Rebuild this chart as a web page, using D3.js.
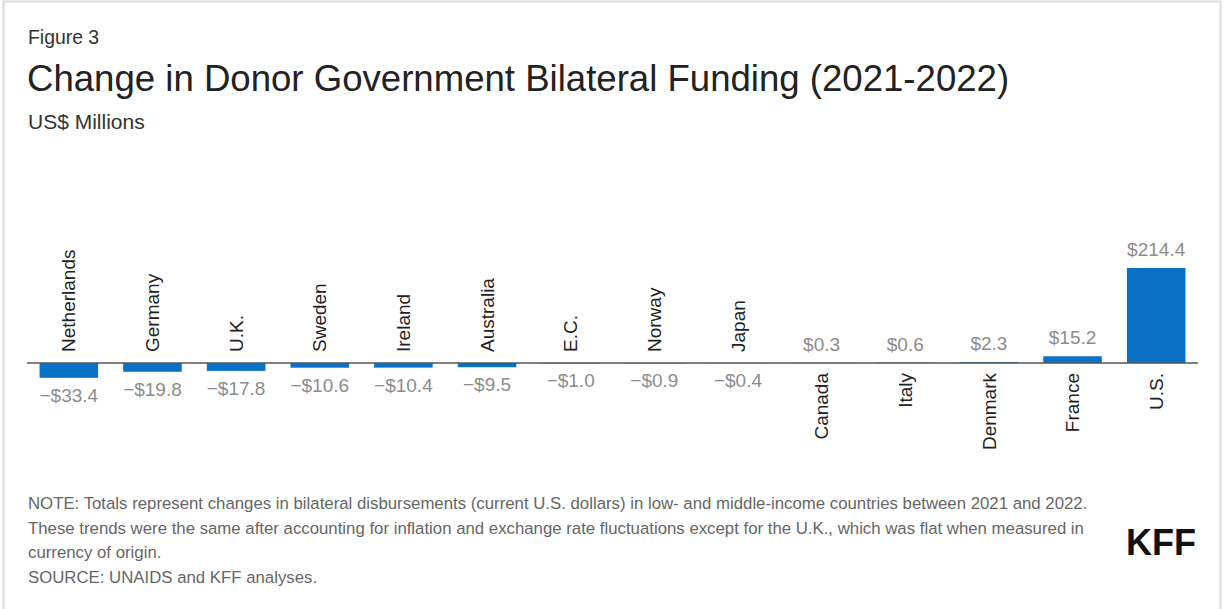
<!DOCTYPE html>
<html>
<head>
<meta charset="utf-8">
<script src="https://cdn.jsdelivr.net/npm/d3@7"></script>
<style>
  html, body { margin: 0; padding: 0; background: #fff; }
  svg { display: block; font-family: "Liberation Sans", Arial, Helvetica, sans-serif; }
</style>
</head>
<body>
<svg id="chart" width="1225" height="609"></svg>
<script>
// Donor governments, ordered from largest decrease to largest increase
const donors = ["Netherlands", "Germany", "U.K.", "Sweden", "Ireland", "Australia", "E.C.",
                "Norway", "Japan", "Canada", "Italy", "Denmark", "France", "U.S."];
// Change in bilateral funding 2021-2022, US$ millions
const changes = [-33.4, -19.8, -17.8, -10.6, -10.4, -9.5, -1.0, -0.9, -0.4, 0.3, 0.6, 2.3, 15.2, 214.4];

const titleText = "Change in Donor Government Bilateral Funding (2021-2022)";
const noteLines = [
  "NOTE: Totals represent changes in bilateral disbursements (current U.S. dollars) in low- and middle-income countries between 2021 and 2022.",
  "These trends were the same after accounting for inflation and exchange rate fluctuations except for the U.K., which was flat when measured in",
  "currency of origin.",
  "SOURCE: UNAIDS and KFF analyses."
];

const data = donors.map((name, i) => ({ name, value: changes[i] }));

const svg = d3.select("#chart");

// card border
svg.append("rect")
  .attr("x", 3.5).attr("y", 1.5)
  .attr("width", 1217).attr("height", 640)
  .attr("fill", "#fff")
  .attr("stroke", "#dcdcdc").attr("stroke-width", 2);

// header
svg.append("text").attr("x", 28).attr("y", 44)
  .attr("font-size", 19.4).attr("fill", "#333").text("Figure 3");
svg.append("text").attr("x", 27).attr("y", 91)
  .attr("font-size", 36.6).attr("fill", "#222").text(titleText);
svg.append("text").attr("x", 28).attr("y", 129)
  .attr("font-size", 21).attr("fill", "#333").text("US$ Millions");

// scales
const x = d3.scaleBand()
  .domain(donors)
  .range([27, 1198])
  .paddingInner(0.3)
  .paddingOuter(0.15);

const y = d3.scaleLinear()
  .domain([0, 214.4])
  .range([363, 268]);

const fmt = v => (v < 0 ? "\u2212$" : "$") + d3.format(".1f")(Math.abs(v));

// bars
svg.append("g").selectAll("rect")
  .data(data)
  .join("rect")
  .attr("x", d => x(d.name))
  .attr("width", x.bandwidth())
  .attr("y", d => Math.min(y(d.value), y(0)))
  .attr("height", d => Math.abs(y(d.value) - y(0)))
  .attr("fill", "#0a72c6");

// zero line
svg.append("line")
  .attr("x1", x.range()[0]).attr("x2", x.range()[1])
  .attr("y1", y(0)).attr("y2", y(0))
  .attr("stroke", "#555").attr("stroke-width", 1.5);

// category labels, rotated, placed on the side opposite the bar
svg.append("g").selectAll("text")
  .data(data)
  .join("text")
  .attr("transform", d => {
    const cx = x(d.name) + x.bandwidth() / 2;
    const ty = d.value < 0 ? y(0) - 11 : y(0) + 10;
    return `translate(${cx},${ty}) rotate(-90)`;
  })
  .attr("text-anchor", d => d.value < 0 ? "start" : "end")
  .attr("dy", "0.35em")
  .attr("font-size", 19)
  .attr("fill", "#222")
  .text(d => d.name);

// value labels at the end of each bar
svg.append("g").selectAll("text")
  .data(data)
  .join("text")
  .attr("x", d => x(d.name) + x.bandwidth() / 2)
  .attr("y", d => d.value < 0 ? y(d.value) + 24 : y(d.value) - 12)
  .attr("text-anchor", "middle")
  .attr("font-size", 19)
  .attr("fill", "#8c8c8c")
  .text(d => fmt(d.value));

// notes
svg.append("g").selectAll("text")
  .data(noteLines)
  .join("text")
  .attr("x", 28)
  .attr("y", (d, i) => 509 + i * 24.5)
  .attr("font-size", 16.8)
  .attr("fill", "#666")
  .text(d => d);

// logo
svg.append("text").attr("x", 1126).attr("y", 555)
  .attr("font-size", 36).attr("font-weight", "bold")
  .attr("fill", "#111").text("KFF");
</script>
</body>
</html>
